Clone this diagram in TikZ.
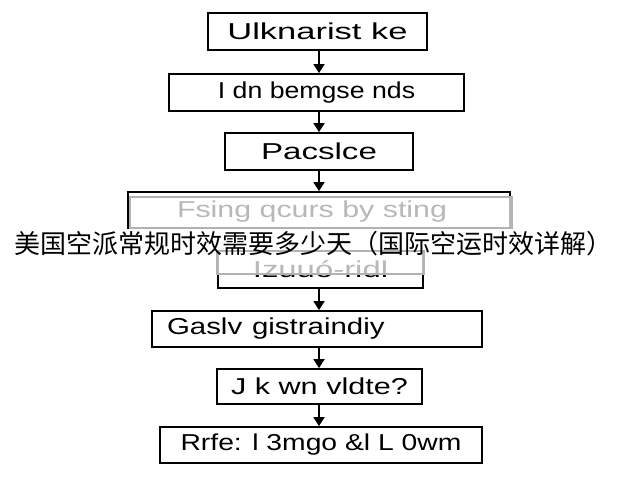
\documentclass[tikz,border=0pt]{standalone}
\usepackage{fontspec}
\usepackage{graphicx}
\setmainfont{Liberation Sans}
\newfontfamily\cjk{Noto Sans CJK SC}
\newcommand{\sxw}[2]{\scalebox{#1}[1]{#2}}
\usetikzlibrary{arrows.meta,calc}
\begin{document}
\begin{tikzpicture}[x=1pt,y=-1pt,
  box/.style={draw=black,line width=1.8pt,fill=white,inner sep=0pt,
    font=\fontsize{23}{27}\selectfont},
  arr/.style={line width=1.8pt,-{Triangle[width=11pt,length=9pt]}},
  veil/.style={fill=white,fill opacity=0.72,draw=black!30,line width=1.2pt}]
\useasboundingbox (0,0) rectangle (640,480);
\fill[white] (0,0) rectangle (640,480);
\node[box,minimum width=219pt,minimum height=37pt] (b1) at (317.5,31.5) {\sxw{1.5}{Ulknarist ke}};
\node[box,minimum width=295pt,minimum height=37pt] (b2) at (316.5,92.5) {\sxw{1.16}{I dn bemgse nds}};
\node[box,minimum width=188pt,minimum height=37pt] (b3) at (319,151.5) {\sxw{1.44}{Pacslce}};
\node[box,minimum width=382pt,minimum height=40pt] (b4) at (319,212) {\hspace*{-14pt}\sxw{1.32}{Fsing qcurs by sting}};
\node[box,minimum width=205pt,minimum height=38pt] (b5) at (320.5,269) {\sxw{1.43}{Izuuó-ridl}};
\node[box,minimum width=330pt,minimum height=36pt,text width=300pt,align=left,inner xsep=15pt] (b6) at (317,329) {\sxw{1.28}{Gaslv gistraindiy}};
\node[box,minimum width=205pt,minimum height=35pt] (b7) at (319.5,386.5) {\sxw{1.33}{J k wn vldte?}};
\node[box,minimum width=322pt,minimum height=36pt] (b8) at (321,445) {\sxw{1.23}{Rrfe: l 3mgo \&l L 0wm}};
\coordinate (ax) at (319,0);
\draw[arr] (b1.south -| ax) -- (b2.north -| ax);
\draw[arr] (b2.south -| ax) -- (b3.north -| ax);
\draw[arr] (b3.south -| ax) -- (b4.north -| ax);
\draw[arr] (b4.south -| ax) -- (b5.north -| ax);
\draw[arr] (b5.south -| ax) -- (b6.north -| ax);
\draw[arr] (b6.south -| ax) -- (b7.north -| ax);
\draw[arr] (b7.south -| ax) -- (b8.north -| ax);
% watermark layer
\draw[veil] (130,197) rectangle (512,228);
\draw[veil] (217,251) rectangle (424,274);
\fill[white] (0,229) rectangle (640,250);
\node[font=\cjk\fontsize{26}{30}\selectfont,inner sep=0pt] (wm) at (313.5,244) {美国空派常规时效需要多少天（国际空运时效详解）};
\end{tikzpicture}
\end{document}
